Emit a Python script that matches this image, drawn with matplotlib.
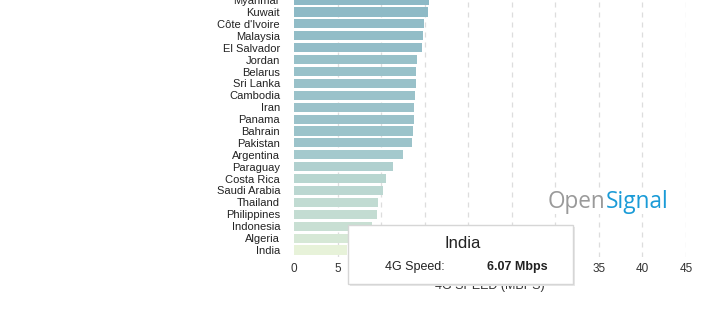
import matplotlib
matplotlib.use("Agg")
import matplotlib.pyplot as plt
from matplotlib.colors import LinearSegmentedColormap, Normalize
from matplotlib.patches import Rectangle

# countries from top to bottom, as in the picture
countries = ["Myanmar", "Kuwait", "Côte d'Ivoire", "Malaysia", "El Salvador",
             "Jordan", "Belarus", "Sri Lanka", "Cambodia", "Iran", "Panama",
             "Bahrain", "Pakistan", "Argentina", "Paraguay", "Costa Rica",
             "Saudi Arabia", "Thailand", "Philippines", "Indonesia", "Algeria",
             "India"]
speeds = [15.5, 15.33, 14.98, 14.83, 14.72, 14.07, 14.03, 13.95, 13.88, 13.76,
          13.76, 13.65, 13.57, 12.54, 11.32, 10.51, 10.2, 9.63, 9.52, 8.94,
          7.6, 6.07]
xticks = [0, 5, 10, 15, 20, 25, 30, 35, 40, 45]

W, H = 726, 324
fig = plt.figure(figsize=(W / 100, H / 100), dpi=100)
plt.rcParams['font.family'] = ['Liberation Sans', 'DejaVu Sans']

n = len(countries)
row = 11.9
bottom_px = 250 + 0.6 * row
top_px = 250 - (n - 1) * row - 0.6 * row
ax = fig.add_axes([294 / W, (H - bottom_px) / H, (686 - 294) / W, (bottom_px - top_px) / H])

ypos = list(range(n - 1, -1, -1))
cmap = LinearSegmentedColormap.from_list("os", ["#e7f2d9", "#c6ded3", "#a6cacd", "#8db9c6"])
norm = Normalize(6.0, 15.5)
ax.barh(ypos, speeds, height=0.76, color=[cmap(norm(v)) for v in speeds], zorder=2)

ax.set_yticks(ypos)
ax.set_yticklabels(countries, fontsize=8, color="#222222")
ax.set_ylim(-0.6, n - 0.4)
ax.set_xlim(0, 45)
ax.set_xticks(xticks)
ax.set_xticklabels([str(t) for t in xticks], fontsize=8.5, color="#333333")
ax.tick_params(axis="y", length=0, pad=10)
ax.tick_params(axis="x", length=0, pad=4)
for t in xticks[1:]:
    ax.axvline(t, color="#dddddd", lw=0.9, ls=(0, (4, 4)), zorder=1)
for s in ax.spines.values():
    s.set_visible(False)
ax.set_xlabel("4G SPEED (MBPS)", fontsize=9, color="#333333", labelpad=4)

# OpenSignal logo
r = fig.canvas.get_renderer()
t1 = fig.text(548 / W, 1 - 202 / H, "Open", fontsize=16.3, color="#9a9a9a",
              family="Open Sans", va="center", ha="left",
              bbox=dict(facecolor="white", edgecolor="none", pad=0))
x2 = t1.get_window_extent(r).x1 / W
fig.text(x2, 1 - 202 / H, "Signal", fontsize=16.3, color="#1a9bd7",
         family="Open Sans", va="center", ha="left",
         bbox=dict(facecolor="white", edgecolor="none", pad=0))

# tooltip
shadow = Rectangle((350 / W, 1 - 286 / H), 225 / W, 59 / H, transform=fig.transFigure,
                   facecolor="#e8e8e8", edgecolor="none", zorder=9)
box = Rectangle((348 / W, 1 - 284 / H), 225 / W, 59 / H, transform=fig.transFigure,
                facecolor="white", edgecolor="#d6d6d6", lw=1, zorder=10)
fig.add_artist(shadow)
fig.add_artist(box)
fig.text(463 / W, 1 - 244 / H, countries[-1], fontsize=12, color="#222222",
         ha="center", va="center", zorder=11)
fig.text(415 / W, 1 - 267 / H, "4G Speed:", fontsize=9, color="#222222",
         ha="center", va="center", zorder=11)
fig.text(517 / W, 1 - 267 / H, "%.2f Mbps" % speeds[-1], fontsize=9, color="#222222",
         fontweight="bold", ha="center", va="center", zorder=11)

fig.savefig("out.png", dpi=100)
